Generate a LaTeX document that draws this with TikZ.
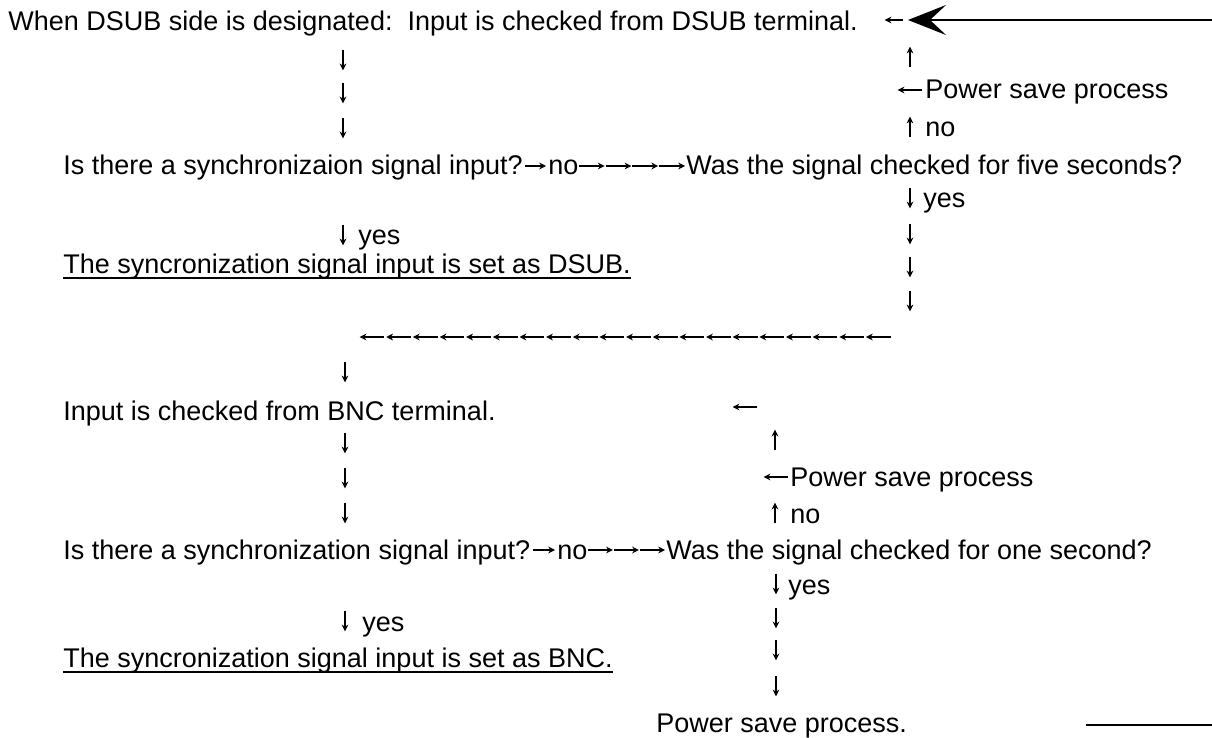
\documentclass[tikz,border=0pt]{standalone}
\usepackage{fontspec}
\setmainfont{Liberation Sans}
\usetikzlibrary{arrows.meta, calc}

\begin{document}
\begin{tikzpicture}[
    x=0.5pt, y=-0.5pt,
    every node/.style={font=\fontsize{13.5pt}{16pt}\selectfont},
    txt/.style={anchor=base west, inner sep=0pt, text height=10pt, text depth=1pt},
    vstub/.style={inner sep=0pt, minimum width=0pt, minimum height=10pt},
    hstub/.style={inner sep=0pt, minimum height=0pt, minimum width=#1},
    hstub/.default=12pt,
    tip/.style={-{Stealth[length=3.4pt, width=3.4pt]}, line width=0.7pt},
    bigtip/.style={-{Stealth[length=19pt, width=15pt, inset=8pt]}, line width=1pt},
    uline/.style={line width=0.7pt}
]
\useasboundingbox (0,0) rectangle (1212,738);

% DSUB part
\node[txt] (dsub) at (8,31) {When DSUB side is designated:\ \ Input is checked from DSUB terminal.};
\node[txt] (q1) at (63,175) {Is there a synchronizaion signal input?};
\node[txt] (no1) at (548,175) {no};
\node[txt] (chk1) at (686,175) {Was the signal checked for five seconds?};
\node[txt] (pw1) at (925,99) {Power save process};
\node[txt] (nor1) at (925,137) {no};
\node[txt] (yesr1) at (923,208) {yes};
\node[txt] (yesl1) at (358,245) {yes};
\node[txt] (set1) at (63,273) {The syncronization signal input is set as DSUB.};

% BNC part
\node[txt] (bnc) at (63,420) {Input is checked from BNC terminal.};
\node[txt] (q2) at (63,559) {Is there a synchronization signal input?};
\node[txt] (no2) at (557,559) {no};
\node[txt] (chk2) at (666,559) {Was the signal checked for one second?};
\node[txt] (pw2) at (790,486) {Power save process};
\node[txt] (nor2) at (790,523) {no};
\node[txt] (yesr2) at (788,594) {yes};
\node[txt] (yesl2) at (362,631) {yes};
\node[txt] (set2) at (63,667) {The syncronization signal input is set as BNC.};
\node[txt] (psp) at (656,732) {Power save process.};

\draw[uline] ([yshift=-2.5pt]set1.base west) -- ([yshift=-2.5pt]set1.base east);
\draw[uline] ([yshift=-2.5pt]set2.base west) -- ([yshift=-2.5pt]set2.base east);

% down arrows
\foreach \y [count=\i] in {60,93,128,235} {
    \node[vstub] (da\i) at (343,\y) {};
    \draw[tip] (da\i.north) -- (da\i.south);
}
\foreach \y [count=\i] in {372,443,478,513,621} {
    \node[vstub] (db\i) at (345,\y) {};
    \draw[tip] (db\i.north) -- (db\i.south);
}
\foreach \y [count=\i] in {198,234,267,301} {
    \node[vstub] (dc\i) at (910,\y) {};
    \draw[tip] (dc\i.north) -- (dc\i.south);
}
\foreach \y [count=\i] in {584,618,650,686} {
    \node[vstub] (dd\i) at (776,\y) {};
    \draw[tip] (dd\i.north) -- (dd\i.south);
}

% up arrows
\foreach \y [count=\i] in {57,127} {
    \node[vstub] (ua\i) at (910,\y) {};
    \draw[tip] (ua\i.south) -- (ua\i.north);
}
\foreach \y [count=\i] in {440,513} {
    \node[vstub] (ub\i) at (775,\y) {};
    \draw[tip] (ub\i.south) -- (ub\i.north);
}

% left arrows
\node[hstub=9pt] (la1) at (894,20) {};
\node[hstub] (la2) at (910,90) {};
\node[hstub] (la3) at (745,407) {};
\node[hstub] (la4) at (776,477) {};
\foreach \i in {1,...,4} {
    \draw[tip] (la\i.east) -- (la\i.west);
}
\foreach \i in {0,...,19} {
    \node[hstub] (h\i) at ({372+26.65*\i},337) {};
    \draw[tip] (h\i.east) -- (h\i.west);
}

% right arrows
\draw[tip] ([xshift=1pt]q1.east) -- ([xshift=-1pt]no1.west);
\foreach \i [evaluate=\i as \a using \i/4, evaluate=\i as \b using (\i+1)/4] in {0,...,3} {
    \draw[tip, shorten >=0.5pt] ($(no1.east)!\a!(chk1.west)$) -- ($(no1.east)!\b!(chk1.west)$);
}
\draw[tip] ([xshift=1pt]q2.east) -- ([xshift=-1pt]no2.west);
\foreach \i [evaluate=\i as \a using \i/3, evaluate=\i as \b using (\i+1)/3] in {0,...,2} {
    \draw[tip, shorten >=0.5pt] ($(no2.east)!\a!(chk2.west)$) -- ($(no2.east)!\b!(chk2.west)$);
}

% return line
\coordinate (back) at (1212,20);
\coordinate (front) at (908,20);
\draw[bigtip] (back) -- (front);
\coordinate (outl) at (1086,725);
\coordinate (outr) at (1212,725);
\draw[line width=1pt] (outl) -- (outr);
\end{tikzpicture}
\end{document}
